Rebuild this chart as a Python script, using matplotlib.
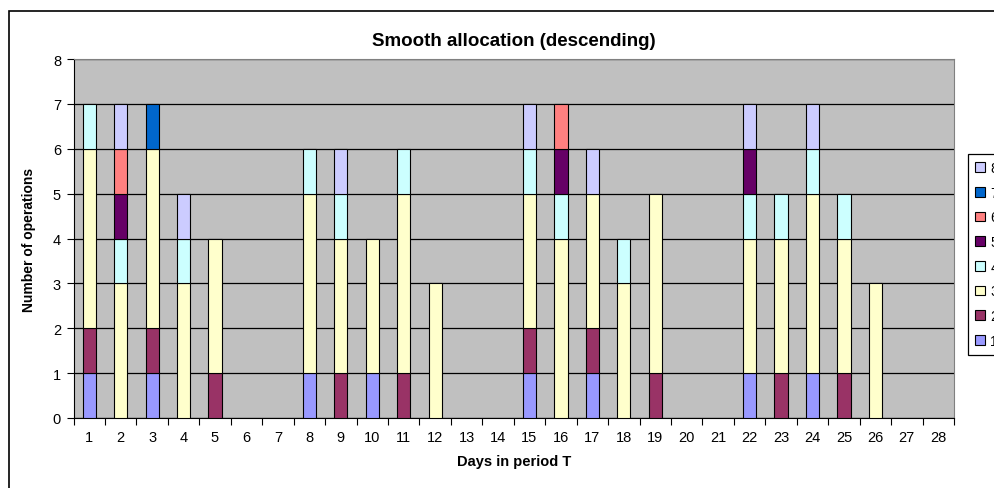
import numpy as np
import matplotlib
matplotlib.use("Agg")
import matplotlib.pyplot as plt
from matplotlib.patches import Rectangle

plt.rcParams['font.family'] = ['Liberation Sans', 'DejaVu Sans']

# days 1..28, operations of each type per day
days = list(range(1, 29))
op1 = [1, 0, 1, 0, 0, 0, 0, 1, 0, 1, 0, 0, 0, 0, 1, 0, 1, 0, 0, 0, 0, 1, 0, 1, 0, 0, 0, 0]
op2 = [1, 0, 1, 0, 1, 0, 0, 0, 1, 0, 1, 0, 0, 0, 1, 0, 1, 0, 1, 0, 0, 0, 1, 0, 1, 0, 0, 0]
op3 = [4, 3, 4, 3, 3, 0, 0, 4, 3, 3, 4, 3, 0, 0, 3, 4, 3, 3, 4, 0, 0, 3, 3, 4, 3, 3, 0, 0]
op4 = [1, 1, 0, 1, 0, 0, 0, 1, 1, 0, 1, 0, 0, 0, 1, 1, 0, 1, 0, 0, 0, 1, 1, 1, 1, 0, 0, 0]
op5 = [0, 1, 0, 0, 0, 0, 0, 0, 0, 0, 0, 0, 0, 0, 0, 1, 0, 0, 0, 0, 0, 1, 0, 0, 0, 0, 0, 0]
op6 = [0, 1, 0, 0, 0, 0, 0, 0, 0, 0, 0, 0, 0, 0, 0, 1, 0, 0, 0, 0, 0, 0, 0, 0, 0, 0, 0, 0]
op7 = [0, 0, 1, 0, 0, 0, 0, 0, 0, 0, 0, 0, 0, 0, 0, 0, 0, 0, 0, 0, 0, 0, 0, 0, 0, 0, 0, 0]
op8 = [0, 1, 0, 1, 0, 0, 0, 0, 1, 0, 0, 0, 0, 0, 1, 0, 1, 0, 0, 0, 0, 1, 0, 1, 0, 0, 0, 0]

series = [op1, op2, op3, op4, op5, op6, op7, op8]
names = ["1", "2", "3", "4", "5", "6", "7", "8"]
colors = ["#9999FF", "#993366", "#FFFFCC", "#CCFFFF",
          "#660066", "#FF8080", "#0066CC", "#CCCCFF"]

W, H = 994, 489
fig = plt.figure(figsize=(W / 100, H / 100), dpi=100)
ax = fig.add_axes([73.5 / W, 1 - 419 / H, (954 - 73.5) / W, (419 - 60) / H])
ax.set_facecolor("#C0C0C0")

x = np.arange(len(days))
bottom = np.zeros(len(days))
handles = []
for vals, name, col in zip(series, names, colors):
    vals = np.array(vals, dtype=float)
    nz = vals > 0  # skip empty segments so no flat outlines appear
    b = ax.bar(x[nz], vals[nz], width=0.42, bottom=bottom[nz], color=col,
               edgecolor="black", linewidth=0.8, label=name, zorder=3)
    handles.append(b)
    bottom += vals

ax.set_xlim(-0.5, len(days) - 0.5)
ax.set_ylim(0, 8)
ax.set_yticks(range(0, 9))
ax.yaxis.grid(True, color="black", linewidth=0.9, zorder=1)
ax.set_axisbelow(True)

# ticks sit between the day categories, labels at the centres
ax.set_xticks(np.arange(-0.5, len(days)), minor=False)
ax.set_xticklabels([])
ax.set_xticks(x, minor=True)
ax.set_xticklabels([str(d) for d in days], minor=True)
ax.tick_params(axis="x", which="major", direction="out", length=5, width=0.8)
ax.tick_params(axis="x", which="minor", length=0, pad=9, labelsize=10.5)
ax.tick_params(axis="y", direction="out", length=5, width=0.8, labelsize=10.5, pad=4)

for side in ["top", "right"]:
    ax.spines[side].set_color("#808080")
for side in ["left", "bottom"]:
    ax.spines[side].set_color("black")

ax.set_title("Smooth allocation (descending)", fontsize=13.5, fontweight="bold", pad=10)
ax.set_xlabel("Days in period T", fontsize=10.5, fontweight="bold", labelpad=7)
ax.set_ylabel("Number of operations", fontsize=10, fontweight="bold", labelpad=12)

# outer chart frame
frame = Rectangle((8.5 / W, -0.1), 1.2, 1.1 - 12 / H, transform=fig.transFigure,
                  fill=False, edgecolor="black", linewidth=1.2, clip_on=False)
fig.add_artist(frame)

leg = fig.legend(handles[::-1], names[::-1], loc="upper left",
                 bbox_to_anchor=(968 / W, 1 - 155 / H), frameon=True,
                 fancybox=False, framealpha=1, edgecolor="black",
                 fontsize=10, handlelength=0.7, handleheight=0.7,
                 handletextpad=0.4, labelspacing=0.77, borderpad=0.5,
                 borderaxespad=0)
leg.get_frame().set_linewidth(0.9)

fig.savefig("out.png", dpi=100)
